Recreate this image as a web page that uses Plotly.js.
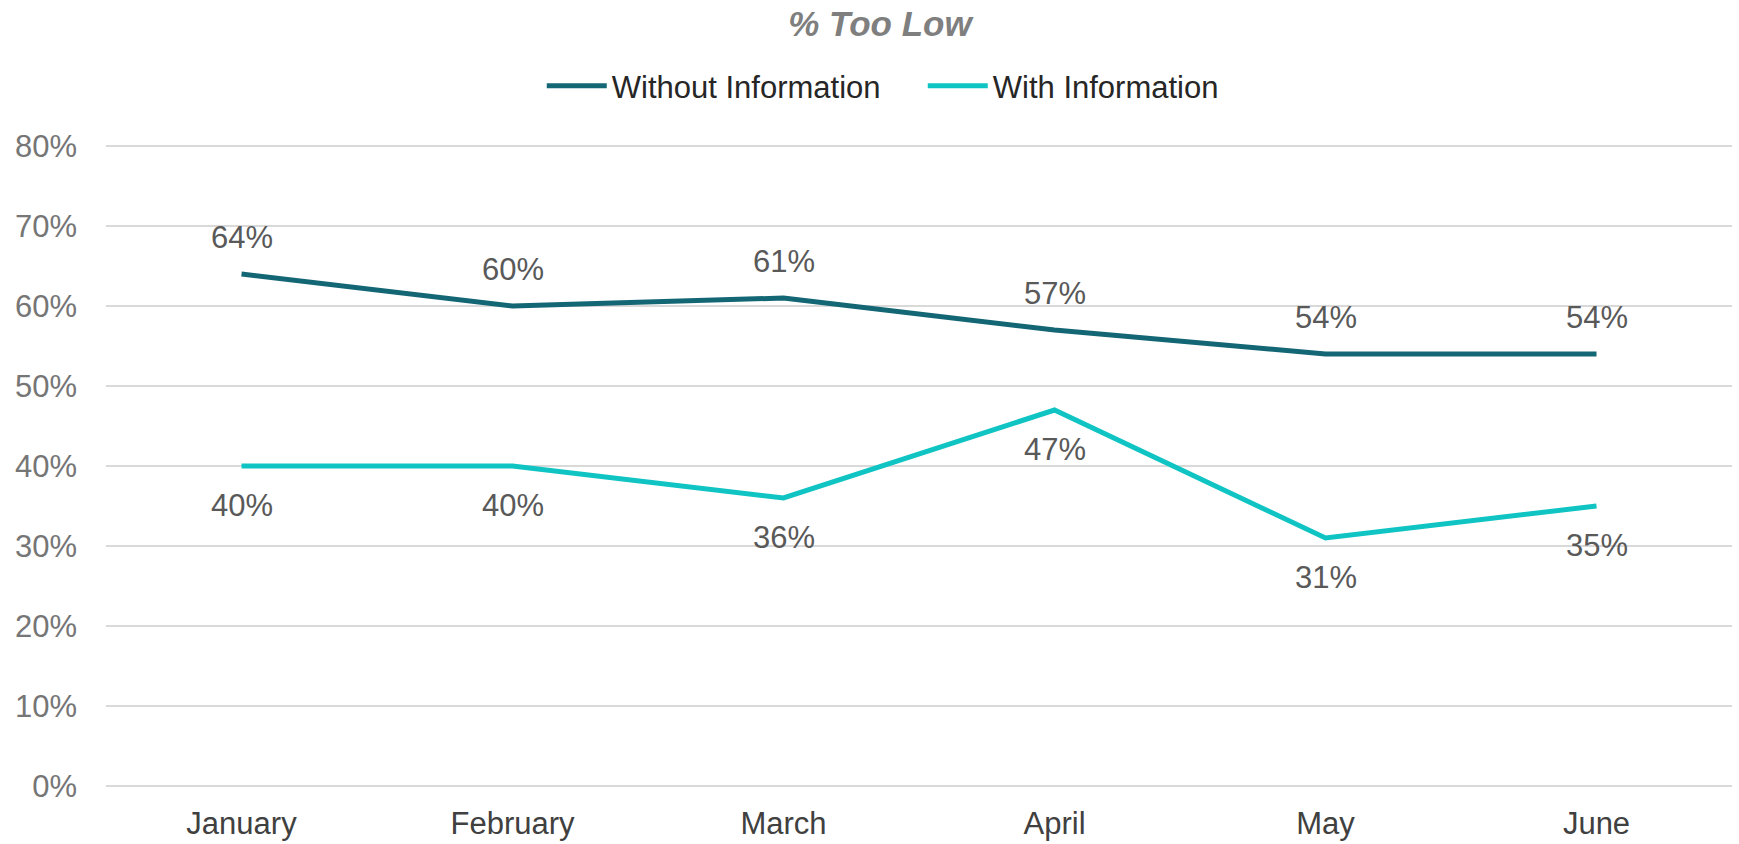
<!DOCTYPE html>
<html>
<head>
<meta charset="utf-8">
<script src="https://cdn.plot.ly/plotly-3.0.1.min.js"></script>
<style>html,body{margin:0;padding:0;background:#fff}#chart{width:1739px;height:844px}</style>
</head>
<body>
<div id="chart"></div>
<script>
var months = ["January", "February", "March", "April", "May", "June"];
var withoutInfo = [64, 60, 61, 57, 54, 54];
var withInfo = [40, 40, 36, 47, 31, 35];
var yTicks = [0, 10, 20, 30, 40, 50, 60, 70, 80];

var FONT = "Liberation Sans, Arial, sans-serif";
var darkTeal = "#136674";
var cyan = "#10C4C4";

var traces = [
  {x: months, y: withoutInfo, name: "Without Information", type: "scatter", mode: "lines",
   line: {color: darkTeal, width: 5}, hoverinfo: "skip"},
  {x: months, y: withInfo, name: "With Information", type: "scatter", mode: "lines",
   line: {color: cyan, width: 5}, hoverinfo: "skip"}
];

var annotations = [];
months.forEach(function (m, i) {
  annotations.push({x: m, y: withoutInfo[i], xref: "x", yref: "y", text: withoutInfo[i] + "%",
    showarrow: false, yshift: 37, font: {family: FONT, size: 31, color: "#595959"}});
  annotations.push({x: m, y: withInfo[i], xref: "x", yref: "y", text: withInfo[i] + "%",
    showarrow: false, yshift: -39, font: {family: FONT, size: 31, color: "#595959"}});
});

var layout = {
  width: 1739, height: 844,
  paper_bgcolor: "#fff", plot_bgcolor: "#fff",
  margin: {l: 106, r: 7, t: 144, b: 56},
  font: {family: FONT},
  title: {text: "<b><i>% Too Low</i></b>", x: 0.506, xref: "container", xanchor: "center",
    y: 0.9716, yref: "container", yanchor: "middle",
    font: {family: FONT, size: 35, color: "#7F7F7F"}},
  showlegend: true,
  legend: {orientation: "h", x: 0.268, xanchor: "left", y: 1.09, yanchor: "middle",
    font: {family: FONT, size: 31, color: "#262626"}, itemwidth: 60, entrywidth: 306,
    bgcolor: "rgba(0,0,0,0)"},
  xaxis: {type: "category", range: [-0.5, 5.5], showgrid: false, zeroline: false, showline: false,
    ticks: "", tickfont: {family: FONT, size: 31, color: "#404040"}, ticklabelstandoff: 14, fixedrange: true},
  yaxis: {range: [-0.25, 80.25], tickvals: yTicks, ticktext: yTicks.map(function (v) { return v + "%"; }),
    showgrid: true, gridcolor: "#D9D9D9", gridwidth: 1.5, zeroline: true, zerolinecolor: "#D9D9D9",
    zerolinewidth: 1.5, showline: false,
    ticks: "", tickfont: {family: FONT, size: 31, color: "#767676"}, ticklabelstandoff: 28, fixedrange: true},
  annotations: annotations
};

Plotly.newPlot("chart", traces, layout, {displayModeBar: false, staticPlot: true});
</script>
</body>
</html>
